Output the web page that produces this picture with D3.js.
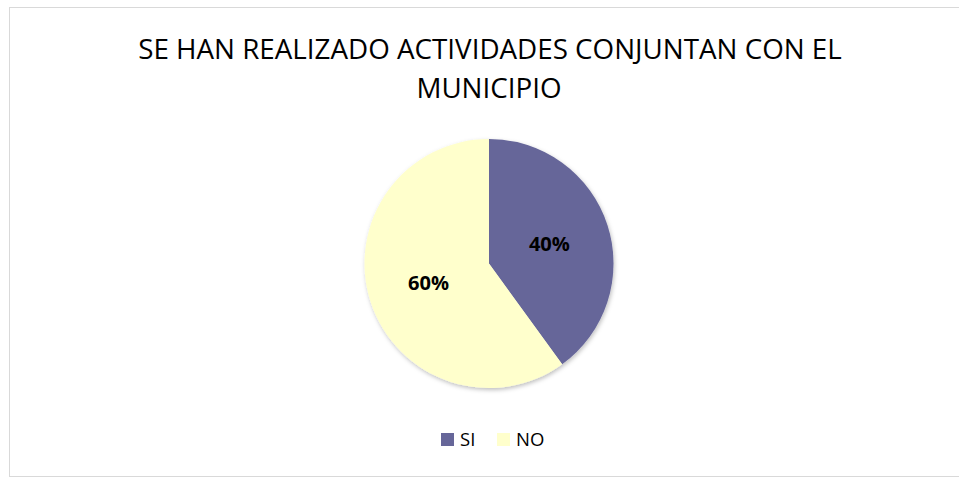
<!DOCTYPE html>
<html><head><meta charset="utf-8">
<script src="https://cdn.jsdelivr.net/npm/d3@7"></script>
<style>html,body{margin:0;padding:0;background:#fff;}svg{display:block;}</style>
</head><body>
<script>
const categories = ["SI", "NO"];
const values = [40, 60];
const colors = ["#666699", "#FFFFCC"];
const titleLines = ["SE HAN REALIZADO ACTIVIDADES CONJUNTAN CON EL", "MUNICIPIO"];

const W = 959, H = 478;
const svg = d3.select("body").append("svg").attr("width", W).attr("height", H);
const font = "'Open Sans', 'Liberation Sans', sans-serif";

const defs = svg.append("defs");
const f = defs.append("filter").attr("id", "sh").attr("x", "-10%").attr("y", "-10%").attr("width", "120%").attr("height", "120%");
f.append("feDropShadow").attr("dx", 1).attr("dy", 2).attr("stdDeviation", 2).attr("flood-color", "#000").attr("flood-opacity", 0.25);

svg.append("rect").attr("x", 9.5).attr("y", 7.5).attr("width", 960).attr("height", 469)
  .attr("fill", "#fff").attr("stroke", "#d9d9d9").attr("stroke-width", 1);

function fit(sel, target) {
  const w = sel.node().getComputedTextLength();
  const fs = parseFloat(sel.attr("font-size"));
  sel.attr("font-size", fs * target / w);
}

// Title
const t1 = svg.append("text").attr("x", 490).attr("y", 59).attr("text-anchor", "middle")
  .attr("font-family", font).attr("font-size", 24).attr("fill", "#000").text(titleLines[0]);
fit(t1, 704);
const t2 = svg.append("text").attr("x", 489).attr("y", 98).attr("text-anchor", "middle")
  .attr("font-family", font).attr("font-size", t1.attr("font-size")).attr("fill", "#000").text(titleLines[1]);

// Pie
const cx = 489, cy = 263.5, r = 124.5;
const pie = d3.pie().sort(null).value(d => d)(values);
const arc = d3.arc().innerRadius(0).outerRadius(r);
const g = svg.append("g").attr("transform", `translate(${cx},${cy})`);
g.append("g").attr("filter", "url(#sh)").selectAll("path").data(pie).join("path")
  .attr("d", arc).attr("fill", (d, i) => colors[i]);

const labelArc = d3.arc().innerRadius(r * 0.51).outerRadius(r * 0.51);
const labels = g.selectAll("text.lbl").data(pie).join("text").attr("class", "lbl")
  .attr("transform", d => `translate(${labelArc.centroid(d)})`)
  .attr("text-anchor", "middle").attr("dy", "0.36em")
  .attr("font-family", font).attr("font-weight", "bold").attr("font-size", 20).attr("fill", "#000")
  .text(d => d.value + "%");
labels.each(function () { fit(d3.select(this), 41); });

// Legend
const legX = [441, 497];
const leg = svg.append("g");
categories.forEach((c, i) => {
  leg.append("rect").attr("x", legX[i]).attr("y", 433).attr("width", 13).attr("height", 13).attr("fill", colors[i]);
  leg.append("text").attr("x", legX[i] + 19).attr("y", 446).attr("font-family", font)
    .attr("font-size", 18.5).attr("fill", "#000").text(c);
});
</script>
</body></html>
